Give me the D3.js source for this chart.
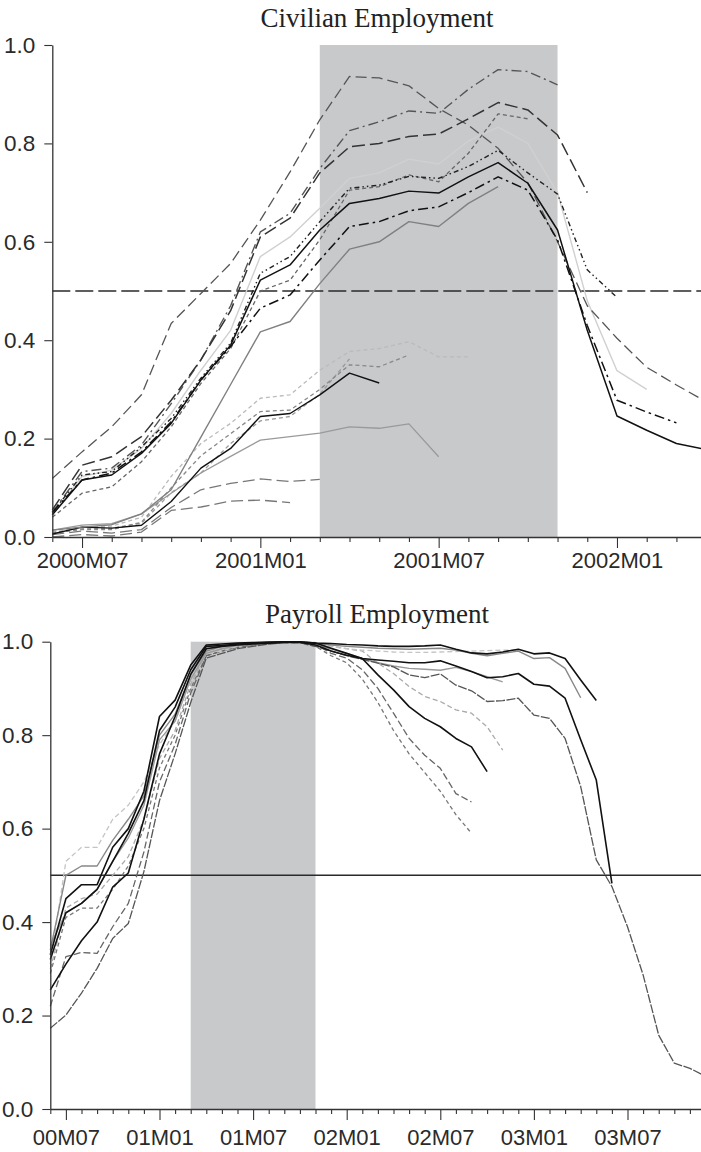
<!DOCTYPE html>
<html>
<head>
<meta charset="utf-8">
<script src="https://cdn.jsdelivr.net/npm/d3@7"></script>
<style>
  body { margin: 0; background: #fff; }
  svg { display: block; }
  .tick text { font-family: "Liberation Sans", Arial, sans-serif; font-weight: normal; fill: #2a2a2a; }
  .title { font-family: "Liberation Serif", "Times New Roman", serif; fill: #222; }
</style>
</head>
<body>
<div id="container"></div>
<script>
// months counted from 2000M06 (index 0)
const civTickIdx = [1, 7, 13, 19];
const civTickLabels = ['2000M07', '2001M01', '2001M07', '2002M01'];
const payTickIdx = [1, 7, 13, 19, 25, 31, 37];
const payTickLabels = ['00M07', '01M01', '01M07', '02M01', '02M07', '03M01', '03M07'];
const recession = [9, 17]; // 2001M03 .. 2001M11
const yTicks = [0, 0.2, 0.4, 0.6, 0.8, 1.0];

// Civilian employment series
const civA = [0.05, 0.133, 0.14, 0.187, 0.271, 0.36, 0.47, 0.62, 0.658, 0.749, 0.826, 0.844, 0.866, 0.861, 0.91, 0.95, 0.946, 0.919];
const civB = [0.055, 0.146, 0.163, 0.204, 0.278, 0.36, 0.46, 0.61, 0.648, 0.74, 0.793, 0.80, 0.814, 0.819, 0.85, 0.883, 0.868, 0.817, 0.70];
const civC = [0.119, 0.173, 0.224, 0.289, 0.434, 0.495, 0.556, 0.644, 0.742, 0.848, 0.936, 0.933, 0.917, 0.871, 0.837, 0.79, 0.72, 0.60, 0.47, 0.404, 0.345, 0.309, 0.275];
const civD = [0.04, 0.089, 0.102, 0.153, 0.224, 0.312, 0.383, 0.50, 0.522, 0.604, 0.705, 0.712, 0.736, 0.722, 0.78, 0.86, 0.85];
const civE = [0.045, 0.123, 0.136, 0.18, 0.251, 0.339, 0.42, 0.57, 0.61, 0.668, 0.729, 0.74, 0.768, 0.758, 0.805, 0.833, 0.80, 0.70, 0.48, 0.338, 0.30];
const civF = [0.05, 0.126, 0.133, 0.183, 0.241, 0.323, 0.394, 0.536, 0.57, 0.641, 0.709, 0.715, 0.733, 0.729, 0.753, 0.786, 0.74, 0.697, 0.543, 0.487];
const civG = [0.045, 0.116, 0.126, 0.17, 0.231, 0.319, 0.39, 0.522, 0.553, 0.624, 0.678, 0.688, 0.703, 0.699, 0.732, 0.761, 0.719, 0.624, 0.42, 0.246, 0.217, 0.19, 0.178];
const civH = [0.05, 0.116, 0.13, 0.173, 0.234, 0.319, 0.387, 0.465, 0.492, 0.563, 0.631, 0.641, 0.663, 0.671, 0.70, 0.732, 0.705, 0.604, 0.43, 0.278, 0.254, 0.232];
const civI = [0.014, 0.02, 0.025, 0.047, 0.096, 0.203, 0.31, 0.417, 0.438, 0.515, 0.585, 0.60, 0.641, 0.631, 0.678, 0.712];
const civJ = [0.012, 0.02, 0.022, 0.04, 0.123, 0.19, 0.231, 0.282, 0.289, 0.339, 0.377, 0.383, 0.397, 0.366, 0.366];
const civK = [0.008, 0.015, 0.015, 0.03, 0.10, 0.165, 0.21, 0.255, 0.258, 0.30, 0.35, 0.346, 0.37];
const civK2 = [0.01, 0.017, 0.018, 0.028, 0.09, 0.13, 0.19, 0.236, 0.245, 0.29, 0.362];
const civL = [0.006, 0.02, 0.018, 0.024, 0.072, 0.14, 0.18, 0.245, 0.251, 0.289, 0.333, 0.313];
const civM = [0.014, 0.024, 0.027, 0.047, 0.089, 0.13, 0.164, 0.197, 0.204, 0.211, 0.224, 0.221, 0.23, 0.163];
const civN = [0.005, 0.012, 0.008, 0.015, 0.06, 0.096, 0.109, 0.118, 0.113, 0.117];
const civO = [0.0, 0.005, 0.002, 0.01, 0.054, 0.061, 0.073, 0.075, 0.07];

// Payroll employment series
const payP1 = [0.255, 0.31, 0.36, 0.40, 0.475, 0.505, 0.62, 0.76, 0.84, 0.93, 0.985, 0.99, 0.993, 0.995, 0.997, 0.999, 0.999, 0.993, 0.98, 0.971, 0.964, 0.961, 0.958, 0.955, 0.955, 0.959, 0.948, 0.936, 0.923, 0.925, 0.932, 0.909, 0.905, 0.879, 0.79, 0.704, 0.483];
const payP2 = [0.173, 0.201, 0.248, 0.301, 0.365, 0.397, 0.508, 0.66, 0.76, 0.87, 0.965, 0.975, 0.985, 0.99, 0.995, 0.998, 0.998, 0.99, 0.98, 0.97, 0.962, 0.954, 0.946, 0.929, 0.923, 0.931, 0.907, 0.895, 0.872, 0.874, 0.879, 0.843, 0.836, 0.793, 0.69, 0.533, 0.476, 0.39, 0.287, 0.158, 0.098, 0.087, 0.07];
const payP3 = [0.33, 0.45, 0.48, 0.48, 0.56, 0.60, 0.68, 0.84, 0.875, 0.95, 0.993, 0.995, 0.997, 0.998, 0.999, 1.0, 1.0, 0.997, 0.996, 0.994, 0.993, 0.991, 0.99, 0.99, 0.991, 0.993, 0.984, 0.976, 0.974, 0.978, 0.984, 0.974, 0.976, 0.964, 0.918, 0.874];
const payP4 = [0.34, 0.50, 0.52, 0.52, 0.575, 0.62, 0.67, 0.80, 0.845, 0.93, 0.98, 0.99, 0.995, 0.997, 0.998, 0.999, 0.999, 0.996, 0.993, 0.99, 0.988, 0.986, 0.985, 0.984, 0.985, 0.986, 0.982, 0.975, 0.970, 0.975, 0.980, 0.964, 0.966, 0.943, 0.88];
const payP5 = [0.31, 0.53, 0.56, 0.56, 0.62, 0.65, 0.70, 0.78, 0.83, 0.92, 0.975, 0.98, 0.99, 0.995, 0.998, 0.999, 0.999, 0.995, 0.99, 0.985, 0.982, 0.98, 0.978, 0.977, 0.977, 0.978, 0.979, 0.98, 0.981, 0.982, 0.982];
const payP7 = [0.35, 0.42, 0.44, 0.47, 0.53, 0.58, 0.65, 0.79, 0.83, 0.92, 0.975, 0.985, 0.992, 0.995, 0.997, 0.998, 0.998, 0.993, 0.985, 0.975, 0.964, 0.955, 0.948, 0.943, 0.941, 0.939, 0.945, 0.936, 0.925, 0.914];
const payP8 = [0.32, 0.42, 0.44, 0.47, 0.53, 0.59, 0.66, 0.81, 0.86, 0.94, 0.99, 0.992, 0.995, 0.997, 0.998, 0.999, 0.999, 0.997, 0.986, 0.975, 0.964, 0.929, 0.897, 0.861, 0.836, 0.818, 0.793, 0.775, 0.722];
const payP9 = [0.30, 0.43, 0.45, 0.46, 0.50, 0.54, 0.62, 0.75, 0.81, 0.91, 0.975, 0.985, 0.99, 0.995, 0.997, 0.998, 0.998, 0.995, 0.99, 0.985, 0.98, 0.954, 0.932, 0.904, 0.883, 0.872, 0.854, 0.847, 0.818, 0.768];
const payP10 = [0.22, 0.326, 0.335, 0.333, 0.39, 0.44, 0.55, 0.70, 0.78, 0.89, 0.97, 0.98, 0.988, 0.993, 0.996, 0.997, 0.997, 0.995, 0.975, 0.965, 0.94, 0.90, 0.847, 0.793, 0.757, 0.729, 0.675, 0.657];
const payP11 = [0.29, 0.41, 0.43, 0.43, 0.47, 0.52, 0.60, 0.73, 0.80, 0.90, 0.97, 0.98, 0.988, 0.993, 0.996, 0.997, 0.997, 0.99, 0.97, 0.955, 0.92, 0.87, 0.81, 0.76, 0.72, 0.68, 0.63, 0.59];

const civSeries = [
  { v: civO, c: '#777', d: '12,5', w: 1.3 },
  { v: civN, c: '#777', d: '12,5', w: 1.3 },
  { v: civM, c: '#9a9a9a', d: null, w: 1.3 },
  { v: civK2, c: '#999', d: '4,3', w: 1.3 },
  { v: civK, c: '#888', d: '4,3', w: 1.3 },
  { v: civJ, c: '#bbb', d: '4,3', w: 1.3 },
  { v: civL, c: '#111', d: null, w: 1.4 },
  { v: civI, c: '#808080', d: null, w: 1.4 },
  { v: civE, c: '#d0d0d0', d: null, w: 1.4 },
  { v: civD, c: '#666', d: '4,3', w: 1.3 },
  { v: civC, c: '#555', d: '11,5', w: 1.3 },
  { v: civA, c: '#555', d: '10,4,2,4', w: 1.4 },
  { v: civB, c: '#333', d: '13,5', w: 1.5 },
  { v: civF, c: '#222', d: '5,3,1.5,3,1.5,3', w: 1.4 },
  { v: civH, c: '#111', d: '10,4,2.5,4', w: 1.5 },
  { v: civG, c: '#111', d: null, w: 1.5 }
];

const paySeries = [
  { v: payP11, c: '#777', d: '4,3', w: 1.3 },
  { v: payP10, c: '#666', d: '7,3', w: 1.3 },
  { v: payP9, c: '#aaa', d: '5,3', w: 1.3 },
  { v: payP5, c: '#c4c4c4', d: '5,3', w: 1.3 },
  { v: payP7, c: '#9a9a9a', d: null, w: 1.4 },
  { v: payP4, c: '#888', d: null, w: 1.4 },
  { v: payP2, c: '#555', d: '9,1.5', w: 1.3 },
  { v: payP8, c: '#111', d: null, w: 1.6 },
  { v: payP1, c: '#111', d: null, w: 1.6 },
  { v: payP3, c: '#111', d: null, w: 1.6 }
];

const W = 701, H = 1152;
const svg = d3.select('#container').append('svg')
  .attr('width', W).attr('height', H);

function panel(opt) {
  const g = svg.append('g');
  const x = d3.scaleLinear().domain([0, opt.nMonths]).range([opt.x0, opt.x0 + opt.nMonths * opt.step]);
  const y = d3.scaleLinear().domain([0, 1]).range([opt.yBottom, opt.yTop]);

  g.append('rect')
    .attr('x', x(recession[0])).attr('y', y(1))
    .attr('width', x(recession[1]) - x(recession[0]))
    .attr('height', y(0) - y(1))
    .attr('fill', '#c8c9cb');

  g.append('line')
    .attr('x1', opt.x0).attr('x2', W)
    .attr('y1', y(0.5)).attr('y2', y(0.5))
    .attr('stroke', '#2a2a2a').attr('stroke-width', 1.5)
    .attr('stroke-dasharray', opt.halfDash);

  const line = d3.line().x((d, i) => x(i)).y(d => y(d));
  g.selectAll('path.series')
    .data(opt.series)
    .enter().append('path')
    .attr('class', 'series')
    .attr('d', s => line(s.v))
    .attr('fill', 'none')
    .attr('stroke', s => s.c)
    .attr('stroke-width', s => s.w)
    .attr('stroke-dasharray', s => s.d)
    .attr('stroke-linejoin', 'round');

  // y axis
  const yAxis = g.append('g')
    .attr('transform', `translate(${opt.x0},0)`)
    .call(d3.axisLeft(y).tickValues(yTicks).tickFormat(d3.format('.1f')).tickSize(8).tickSizeOuter(0).tickPadding(9));
  yAxis.selectAll('text').style('font-size', '22.5px');

  // x axis, monthly ticks, longer ticks at labelled months
  const months = d3.range(0, opt.nMonths);
  const xAxis = g.append('g')
    .attr('transform', `translate(0,${opt.yBottom})`)
    .call(d3.axisBottom(x).tickValues(months)
      .tickFormat(i => {
        const k = opt.tickIdx.indexOf(i);
        return k >= 0 ? opt.tickLabels[k] : '';
      })
      .tickSize(5).tickSizeOuter(0).tickPadding(6));
  xAxis.selectAll('.tick line')
    .attr('y2', i => opt.tickIdx.indexOf(i) >= 0 ? 11 : 5);
  xAxis.selectAll('text').style('font-size', '22px').attr('y', opt.labelY);

  g.selectAll('.domain').attr('stroke', '#333').attr('stroke-width', 1.3);
  g.selectAll('.tick line').attr('stroke', '#333').attr('stroke-width', 1.1);

  g.append('text')
    .attr('class', 'title')
    .attr('x', 377).attr('y', opt.titleY)
    .attr('text-anchor', 'middle')
    .style('font-size', '27px')
    .text(opt.title);
}

panel({
  title: 'Civilian Employment', titleY: 27,
  x0: 52.3, step: 29.72, nMonths: 22,
  yTop: 45, yBottom: 537,
  tickIdx: civTickIdx, tickLabels: civTickLabels, labelY: 15,
  series: civSeries, halfDash: '18,5'
});

panel({
  title: 'Payroll Employment', titleY: 623,
  x0: 50.3, step: 15.6, nMonths: 42,
  yTop: 641.7, yBottom: 1109,
  tickIdx: payTickIdx, tickLabels: payTickLabels, labelY: 20,
  series: paySeries, halfDash: null
});
</script>
</body>
</html>
